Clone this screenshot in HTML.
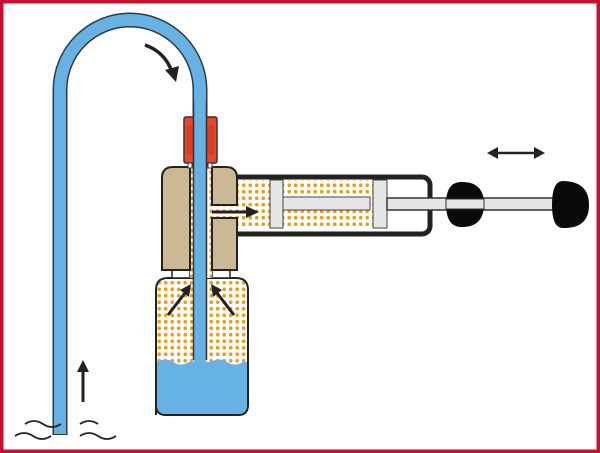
<!DOCTYPE html>
<html><head><meta charset="utf-8"><style>html,body{margin:0;padding:0;background:#fff}svg{display:block}</style></head>
<body>
<svg width="600" height="453" viewBox="0 0 600 453" xmlns="http://www.w3.org/2000/svg">
<defs>
<pattern id="dots" width="6.5" height="6.5" patternUnits="userSpaceOnUse">
<rect width="6.5" height="6.5" fill="#fff"/>
<circle cx="3.2" cy="3.2" r="1.8" fill="#f29a12"/>
</pattern>
</defs>
<rect x="1.5" y="1.5" width="597" height="450" fill="#fff" stroke="#c8102e" stroke-width="4"/>

<!-- tube -->
<path d="M60,435 L60,90 A70,70 0 0 1 200,90 L200,365" fill="none" stroke="#2a3a48" stroke-width="15"/>
<path d="M60,434 L60,90 A70,70 0 0 1 200,90 L200,365" fill="none" stroke="#66b2e2" stroke-width="12"/>

<!-- waves -->
<path d="M25,424 q9,-6 18,0 t18,0 M80,424 q9,-6 18,0" fill="none" stroke="#222" stroke-width="1.8"/>
<path d="M15,436 q9,-6 18,0 t18,0 M80,436 q9,-6 18,0 t18,0" fill="none" stroke="#222" stroke-width="1.8"/>

<!-- up arrow -->
<line x1="83" y1="402" x2="83" y2="368" stroke="#222" stroke-width="3"/>
<path d="M77,372 L83,360 L89,372 Z" fill="#222"/>

<!-- curved arrow -->
<path d="M145,45 Q165,52 172,72" fill="none" stroke="#222" stroke-width="3.5"/>
<path d="M165,70 L176,82 L179,66 Z" fill="#222"/>

<!-- syringe barrel -->
<rect x="230" y="177" width="200" height="57" rx="8" fill="#fff" stroke="#222" stroke-width="5"/>
<rect x="237" y="180" width="136" height="48" fill="url(#dots)"/>
<rect x="270" y="180" width="13" height="48" fill="#e6e6e6" stroke="#444" stroke-width="1"/>
<rect x="283" y="197" width="87" height="13" fill="#e6e6e6" stroke="#444" stroke-width="1"/>
<rect x="373" y="180" width="14" height="48" fill="#e6e6e6" stroke="#444" stroke-width="1"/>
<rect x="387" y="198" width="168" height="12" fill="#e6e6e6" stroke="#333" stroke-width="1.5"/>
<!-- knobs -->
<path d="M460,182 Q484,181 484,204 Q484,228 460,227 Q446,226 446,204 Q446,183 460,182 Z" fill="#0a0a0a"/>
<path d="M562,181 Q589,181 589,205 Q589,229 562,228 Q552,227 552,205 Q552,182 562,181 Z" fill="#0a0a0a"/>
<rect x="446" y="199" width="38" height="10" fill="#e6e6e6" stroke="#333" stroke-width="1"/>
<!-- double arrow -->
<line x1="495" y1="153" x2="537" y2="153" stroke="#222" stroke-width="2.5"/>
<path d="M487,153 L498,147 L498,159 Z M545,153 L534,147 L534,159 Z" fill="#222"/>

<!-- bottle -->
<path d="M156,415 L156,290 Q156,278 168,278 L236,278 Q248,278 248,290 L248,405 Q248,415 238,415 L166,415 Q156,415 156,405 Z" fill="url(#dots)" stroke="#222" stroke-width="2"/>
<path d="M157,362 q8,-5 16,0 t16,0 l5,0 l0,-2 l12,0 l0,2 l5,0 q8,-5 16,0 t16,0 l4,0 L247,405 Q247,414 238,414 L166,414 Q157,414 157,405 Z" fill="#66b2e2"/>
<rect x="194" y="278" width="12" height="86" fill="#66b2e2"/>
<line x1="193.5" y1="270" x2="193.5" y2="360" stroke="#333" stroke-width="1.5"/>
<line x1="206.5" y1="270" x2="206.5" y2="360" stroke="#333" stroke-width="1.5"/>
<!-- neck -->
<rect x="172" y="270" width="18" height="8" fill="#fff" stroke="#222" stroke-width="1.5"/>
<rect x="212" y="270" width="18" height="8" fill="#fff" stroke="#222" stroke-width="1.5"/>
<!-- channel dots -->
<rect x="190" y="167" width="3" height="111" fill="url(#dots)"/>
<rect x="207" y="167" width="5" height="111" fill="url(#dots)"/>
<rect x="207" y="205" width="30" height="13" fill="url(#dots)"/>
<!-- tan blocks -->
<path d="M162,178 Q162,167 173,167 L190,167 L190,270 L162,270 Z" fill="#cbb996" stroke="#222" stroke-width="2"/>
<path d="M212,167 L226,167 Q237,167 237,178 L237,205 L212,205 Z" fill="#cbb996" stroke="#222" stroke-width="2"/>
<rect x="212" y="218" width="25" height="52" fill="#cbb996" stroke="#222" stroke-width="2"/>
<!-- tube through head -->
<rect x="194" y="100" width="12" height="180" fill="#66b2e2"/>
<line x1="193.5" y1="100" x2="193.5" y2="280" stroke="#333" stroke-width="1.5"/>
<line x1="206.5" y1="100" x2="206.5" y2="280" stroke="#333" stroke-width="1.5"/>
<!-- red connector -->
<rect x="184" y="117" width="33" height="46" rx="2" fill="#e8452c" stroke="#333" stroke-width="1.5"/>
<rect x="187" y="125" width="27" height="30" fill="#e03a22"/>
<rect x="188" y="163" width="4" height="5" fill="#fff" stroke="#333" stroke-width="1"/>
<rect x="208" y="163" width="4" height="5" fill="#fff" stroke="#333" stroke-width="1"/>
<rect x="194" y="115" width="12" height="55" fill="#66b2e2"/>
<line x1="193.5" y1="115" x2="193.5" y2="170" stroke="#333" stroke-width="1.5"/>
<line x1="206.5" y1="115" x2="206.5" y2="170" stroke="#333" stroke-width="1.5"/>

<!-- arrows inside -->
<line x1="212" y1="212" x2="250" y2="212" stroke="#222" stroke-width="3"/>
<path d="M246,206 L259,212 L246,218 Z" fill="#222"/>
<line x1="168" y1="315" x2="185" y2="293" stroke="#222" stroke-width="3"/>
<path d="M180,290 L191,284 L189,297 Z" fill="#222"/>
<line x1="234" y1="315" x2="217" y2="293" stroke="#222" stroke-width="3"/>
<path d="M222,290 L211,284 L213,297 Z" fill="#222"/>
</svg>
</body></html>
